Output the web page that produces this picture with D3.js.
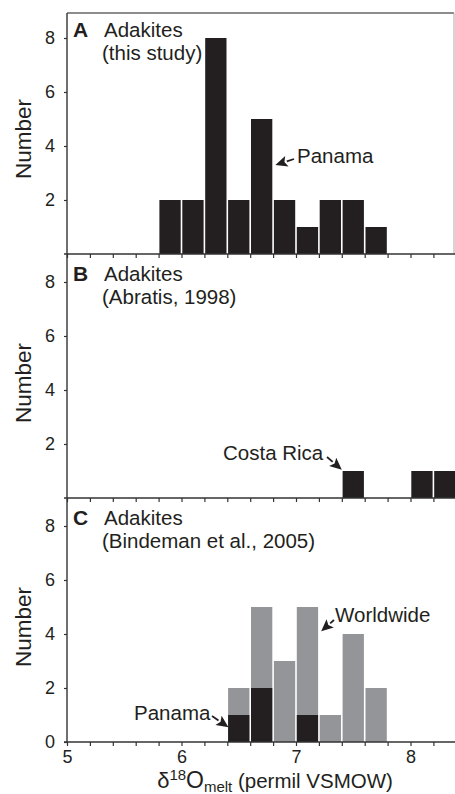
<!DOCTYPE html>
<html>
<head>
<meta charset="utf-8">
<script src="https://cdn.jsdelivr.net/npm/d3@7"></script>
<style>
  body { margin: 0; background: #fff; }
  text { font-family: "Liberation Sans", Arial, Helvetica, sans-serif; fill: #231f20; }
</style>
</head>
<body>
<script>
// histogram bins (left edge of each 0.2 permil bin) and counts
const binWidth = 0.2;
const binsA = [5.8, 6.0, 6.2, 6.4, 6.6, 6.8, 7.0, 7.2, 7.4, 7.6];
const countsA = [2, 2, 8, 2, 5, 2, 1, 2, 2, 1];
const binsB = [7.4, 8.0, 8.2];
const countsB = [1, 1, 1];
const binsC = [6.4, 6.6, 6.8, 7.0, 7.2, 7.4, 7.6];
const worldwideC = [2, 5, 3, 5, 1, 4, 2];
const panamaC = [1, 2, 0, 1, 0, 0, 0];
const xLabels = [5, 6, 7, 8];
const yLabels = [2, 4, 6, 8];

const W = 455, H = 794;
const black = "#231f20", grey = "#939598";
const fs = "20.5px";

let svg = d3.select("body").append("svg")
  .attr("width", W)
  .attr("height", H);

// shared x scale
const x = d3.scaleLinear().domain([5, 8.4]).range([67, 67 + 3.4 * 114.5]);
const xTicks = d3.range(0, 18).map(i => +(5 + i * 0.2).toFixed(1));

// panel layout: baseline of each panel, each 9 units tall
const panelH = 243;
const panels = [
  { key: "A", bottom: 254, line2: "(this study)", bins: binsA, counts: countsA },
  { key: "B", bottom: 498, line2: "(Abratis, 1998)", bins: binsB, counts: countsB },
  { key: "C", bottom: 742, line2: "(Bindeman et al., 2005)", bins: binsC, counts: worldwideC, inner: panamaC }
];

// frame lines
svg.append("line").attr("x1", 67).attr("x2", 454).attr("y1", 13).attr("y2", 13)
  .attr("stroke", "#666").attr("stroke-width", 1.6);
svg.append("line").attr("x1", 454).attr("x2", 454).attr("y1", 13).attr("y2", 254)
  .attr("stroke", "#aaa").attr("stroke-width", 1);

function arrow(g, x1, y1, x2, y2) {
  const ang = Math.atan2(y2 - y1, x2 - x1);
  const len = 12, hw = 5.5;
  const bx = x2 - len * Math.cos(ang), by = y2 - len * Math.sin(ang);
  g.append("line").attr("x1", x1).attr("y1", y1).attr("x2", bx).attr("y2", by)
    .attr("stroke", black).attr("stroke-width", 1.8);
  const px = -Math.sin(ang) * hw, py = Math.cos(ang) * hw;
  g.append("path")
    .attr("d", `M${x2},${y2}L${bx + px},${by + py}L${bx + 2.5 * Math.cos(ang)},${by + 2.5 * Math.sin(ang)}L${bx - px},${by - py}Z`)
    .attr("fill", black);
}

panels.forEach(function (p, i) {
  const y = d3.scaleLinear().domain([0, 9]).range([p.bottom, p.bottom - panelH]);
  const g = svg.append("g");
  const top = p.bottom - panelH;

  // bars
  g.selectAll("rect.main")
    .data(p.bins.map((b, j) => ({ b: b, n: p.counts[j] })))
    .enter().append("rect")
    .attr("class", "main")
    .attr("x", d => x(d.b) + 0.8)
    .attr("width", d => x(d.b + binWidth) - x(d.b) - 1.6)
    .attr("y", d => y(d.n))
    .attr("height", d => y(0) - y(d.n))
    .attr("fill", p.inner ? grey : black);

  if (p.inner) {
    g.selectAll("rect.inner")
      .data(p.bins.map((b, j) => ({ b: b, n: p.inner[j] })).filter(d => d.n > 0))
      .enter().append("rect")
      .attr("class", "inner")
      .attr("x", d => x(d.b) + 0.8)
      .attr("width", d => x(d.b + binWidth) - x(d.b) - 1.6)
      .attr("y", d => y(d.n))
      .attr("height", d => y(0) - y(d.n))
      .attr("fill", black);
  }

  // x axis (ticks pointing down)
  const xa = g.append("g").attr("transform", `translate(0,${p.bottom})`)
    .call(d3.axisBottom(x).tickValues(xTicks).tickSize(4).tickSizeOuter(0).tickPadding(4)
      .tickFormat(d => (i === 2 && xLabels.indexOf(d) >= 0) ? d : ""));
  xa.select(".domain").attr("stroke", "#333").attr("stroke-width", 1.4)
    .attr("d", `M${x(5) - 3},0H${W}`);
  xa.selectAll(".tick line").attr("stroke", "#333").attr("stroke-width", 1.2);
  xa.selectAll(".tick text").style("font-size", "18px").attr("fill", black)
    .attr("font-family", null);

  // y axis
  const ya = g.append("g").attr("transform", `translate(67,0)`)
    .call(d3.axisLeft(y).tickValues(i === 2 ? [0].concat(yLabels) : yLabels).tickSize(3).tickPadding(9));
  ya.select(".domain").remove();
  ya.selectAll(".tick line").attr("stroke", "#333").attr("stroke-width", 1.2);
  ya.selectAll(".tick text").style("font-size", "18px").attr("fill", black)
    .attr("font-family", null);

  // y title
  g.append("text")
    .attr("transform", `translate(30.5,${p.bottom - 115}) rotate(-90)`)
    .attr("text-anchor", "middle")
    .style("font-size", "22.5px")
    .text("Number");

  // panel label
  g.append("text").attr("x", 73).attr("y", top + 26)
    .style("font-size", "21px").style("font-weight", "bold").text(p.key);
  g.append("text").attr("x", 104).attr("y", top + 26)
    .style("font-size", fs).text("Adakites");
  g.append("text").attr("x", 102).attr("y", top + 49)
    .style("font-size", fs).text(p.line2);
});

// left axis line across all panels
svg.append("line").attr("x1", 67).attr("x2", 67).attr("y1", 13).attr("y2", 742)
  .attr("stroke", "#333").attr("stroke-width", 1.4);

// annotations
const yA = d3.scaleLinear().domain([0, 9]).range([254, 254 - panelH]);
const yB = d3.scaleLinear().domain([0, 9]).range([498, 498 - panelH]);
const yC = d3.scaleLinear().domain([0, 9]).range([742, 742 - panelH]);
const ann = svg.append("g");

ann.append("text").attr("x", 297).attr("y", 163).style("font-size", fs).text("Panama");
arrow(ann, 294, 159, x(6.82), yA(3.3));

ann.append("text").attr("x", 223).attr("y", 460).style("font-size", fs).text("Costa Rica");
arrow(ann, 327, 457, x(7.4), yB(1.05));

ann.append("text").attr("x", 335).attr("y", 622).style("font-size", fs).text("Worldwide");
arrow(ann, 334, 620, x(7.22), yC(4.1));

ann.append("text").attr("x", 134).attr("y", 720).style("font-size", fs).text("Panama");
arrow(ann, 212, 716, x(6.41), yC(0.55));

// x title
const xt = svg.append("text").attr("x", 275).attr("y", 788).attr("text-anchor", "middle");
xt.append("tspan").style("font-size", "22px").text("\u03b4");
xt.append("tspan").style("font-size", "15px").attr("dy", -8).text("18");
xt.append("tspan").style("font-size", "23px").attr("dy", 8).text("O");
xt.append("tspan").style("font-size", "15px").attr("dy", 4).text("melt");
xt.append("tspan").style("font-size", "20.5px").attr("dy", -4).text(" (permil VSMOW)");
</script>
</body>
</html>
